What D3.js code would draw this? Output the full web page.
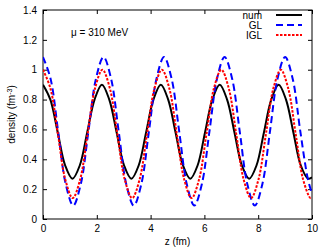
<!DOCTYPE html>
<html>
<head>
<meta charset="utf-8">
<script src="https://cdnjs.cloudflare.com/ajax/libs/d3/7.8.5/d3.min.js"></script>
<style>
  body { margin: 0; background: #fff; }
  text { font-family: "Liberation Sans", Arial, sans-serif; }
</style>
</head>
<body>
<div id="chart"></div>
<script>
// numerical result
var zNum = [0, 0.274, 0.548, 0.821, 1.095, 1.369, 1.643, 1.916, 2.19, 2.464, 2.738, 3.011, 3.285, 3.559, 3.833, 4.106,
    4.38, 4.654, 4.928, 5.201, 5.475, 5.749, 6.023, 6.296, 6.57, 6.844, 7.118, 7.391, 7.665, 7.939, 8.213, 8.486,
    8.76, 9.034, 9.308, 9.581, 9.855, 10];
var dNum = [0.90, 0.80, 0.58, 0.36, 0.27, 0.36, 0.58, 0.80, 0.90, 0.80, 0.58, 0.36, 0.27, 0.36, 0.58, 0.80,
    0.90, 0.80, 0.58, 0.36, 0.27, 0.36, 0.58, 0.80, 0.90, 0.80, 0.58, 0.36, 0.27, 0.36, 0.58, 0.80,
    0.90, 0.80, 0.58, 0.36, 0.27, 0.28];

// GL
var zGL = [0, 0.281, 0.563, 0.844, 1.125, 1.406, 1.688, 1.969, 2.25, 2.531, 2.813, 3.094, 3.375, 3.656, 3.938, 4.219,
    4.5, 4.781, 5.063, 5.344, 5.625, 5.906, 6.188, 6.469, 6.75, 7.031, 7.313, 7.594, 7.875, 8.156, 8.438, 8.719,
    9.0, 9.281, 9.563, 9.844, 10];
var dGL = [1.085, 0.94, 0.587, 0.235, 0.09, 0.235, 0.587, 0.94, 1.085, 0.94, 0.587, 0.235, 0.09, 0.235, 0.587, 0.94,
    1.085, 0.94, 0.587, 0.235, 0.09, 0.235, 0.587, 0.94, 1.085, 0.94, 0.587, 0.235, 0.09, 0.235, 0.587, 0.94,
    1.085, 0.94, 0.59, 0.27, 0.17];

// IGL
var zIGL = [0, 0.276, 0.553, 0.829, 1.105, 1.381, 1.658, 1.934, 2.21, 2.486, 2.763, 3.039, 3.315, 3.591, 3.868, 4.144,
    4.42, 4.696, 4.973, 5.249, 5.525, 5.801, 6.078, 6.354, 6.63, 6.906, 7.183, 7.459, 7.735, 8.011, 8.288, 8.564,
    8.84, 9.116, 9.393, 9.669, 9.945, 10];
var dIGL = [1.0, 0.875, 0.57, 0.265, 0.14, 0.265, 0.57, 0.875, 1.0, 0.875, 0.57, 0.265, 0.14, 0.265, 0.57, 0.875,
    1.0, 0.875, 0.57, 0.265, 0.14, 0.265, 0.57, 0.875, 1.0, 0.875, 0.57, 0.265, 0.14, 0.265, 0.57, 0.875,
    1.0, 0.875, 0.57, 0.265, 0.14, 0.145];

var xTicks = [0, 2, 4, 6, 8, 10];
var yTicks = [0, 0.2, 0.4, 0.6, 0.8, 1, 1.2, 1.4];
var seriesNames = ["num", "GL", "IGL"];

var W = 332, H = 249;
var margin = {left: 43, right: 20, top: 10, bottom: 30};
var w = W - margin.left - margin.right;
var h = H - margin.top - margin.bottom;

var svg = d3.select("#chart").append("svg")
    .attr("width", W)
    .attr("height", H);

var g = svg.append("g")
    .attr("transform", "translate(" + margin.left + "," + margin.top + ")");

var x = d3.scaleLinear().domain([0, 10]).range([0, w]);
var y = d3.scaleLinear().domain([0, 1.4]).range([h, 0]);

// axes, ticks pointing inward on all four sides
var tickLen = 4;
g.append("g").attr("transform", "translate(0," + h + ")")
    .call(d3.axisBottom(x).tickValues(xTicks).tickSizeInner(-tickLen).tickSizeOuter(0).tickPadding(6).tickFormat(d3.format("d")));
g.append("g")
    .call(d3.axisTop(x).tickValues(xTicks).tickSizeInner(-tickLen).tickSizeOuter(0).tickFormat(""));
g.append("g")
    .call(d3.axisLeft(y).tickValues(yTicks).tickSizeInner(-tickLen).tickSizeOuter(0).tickPadding(6).tickFormat(function(d){ return d3.format("~g")(d); }));
g.append("g").attr("transform", "translate(" + w + ",0)")
    .call(d3.axisRight(y).tickValues(yTicks).tickSizeInner(-tickLen).tickSizeOuter(0).tickFormat(""));

g.selectAll(".domain").remove();
g.selectAll(".tick line").attr("stroke", "#000").attr("stroke-width", 1);
g.selectAll(".tick text").attr("font-size", "10px").attr("fill", "#000")
    .style("font-family", "'Liberation Sans', Arial, sans-serif");

// frame
g.append("rect")
    .attr("x", 0).attr("y", 0)
    .attr("width", w).attr("height", h)
    .attr("fill", "none")
    .attr("stroke", "#000")
    .attr("stroke-width", 1);

// curves
var series = [
    {name: seriesNames[0], z: zNum, d: dNum, color: "#000000", dash: null},
    {name: seriesNames[1], z: zGL, d: dGL, color: "#0000ff", dash: "7,4"},
    {name: seriesNames[2], z: zIGL, d: dIGL, color: "#ff0000", dash: "2.5,1.5"}
];

var line = d3.line()
    .x(function(p){ return x(p[0]); })
    .y(function(p){ return y(p[1]); })
    .curve(d3.curveCatmullRom.alpha(0.5));

var clip = svg.append("clipPath").attr("id", "clip")
    .append("rect").attr("width", w).attr("height", h);

g.selectAll(".curve")
    .data(series)
    .enter()
    .append("path")
    .attr("class", "curve")
    .attr("clip-path", "url(#clip)")
    .attr("d", function(s){ return line(s.z.map(function(v, i){ return [v, s.d[i]]; })); })
    .attr("fill", "none")
    .attr("stroke", function(s){ return s.color; })
    .attr("stroke-width", 2)
    .attr("stroke-dasharray", function(s){ return s.dash; });

// legend
var leg = g.selectAll(".leg")
    .data(series)
    .enter()
    .append("g")
    .attr("class", "leg")
    .attr("transform", function(s, i){ return "translate(0," + (5 + i * 10) + ")"; });

leg.append("text")
    .attr("x", 219)
    .attr("y", 3.5)
    .attr("text-anchor", "end")
    .attr("font-size", "10px")
    .text(function(s){ return s.name; });

leg.append("line")
    .attr("x1", 233).attr("x2", 259)
    .attr("y1", 0).attr("y2", 0)
    .attr("stroke", function(s){ return s.color; })
    .attr("stroke-width", 2)
    .attr("stroke-dasharray", function(s){ return s.dash; });

// annotation
g.append("text")
    .attr("x", 28)
    .attr("y", 26)
    .attr("font-size", "10px")
    .text("\u03bc = 310 MeV");

// axis titles
svg.append("text")
    .attr("x", margin.left + w / 2)
    .attr("y", 245)
    .attr("text-anchor", "middle")
    .attr("font-size", "10px")
    .text("z (fm)");

var yl = svg.append("text")
    .attr("transform", "translate(15," + (margin.top + h / 2) + ") rotate(-90)")
    .attr("text-anchor", "middle")
    .attr("font-size", "10px");
yl.append("tspan").text("density (fm");
yl.append("tspan").attr("baseline-shift", "super").attr("font-size", "7px").text("-3");
yl.append("tspan").text(")");
</script>
</body>
</html>
